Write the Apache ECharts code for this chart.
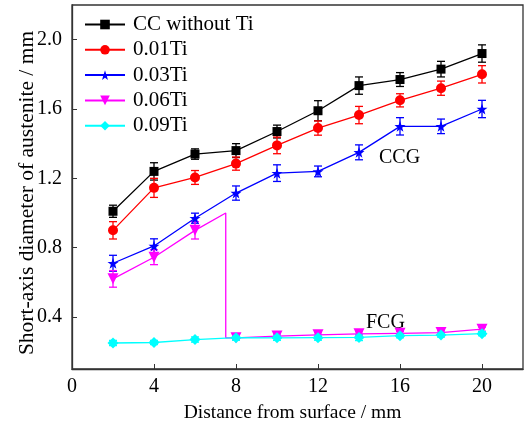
<!DOCTYPE html>
<html>
<head>
<meta charset="utf-8">
<script src="https://cdn.jsdelivr.net/npm/echarts@6/dist/echarts.min.js"></script>
<style>
  html, body { margin: 0; padding: 0; background: #fff; }
  #chart { width: 525px; height: 423px; }
</style>
</head>
<body>
<div id="chart"></div>
<script>
// distances (mm)
const xs = [2, 4, 6, 8, 10, 12, 14, 16, 18, 20];

// short-axis diameter
const ccNoTi = [1.01, 1.24, 1.34, 1.36, 1.47, 1.59, 1.735, 1.77, 1.83, 1.92];
const ti001 = [0.90, 1.145, 1.205, 1.285, 1.39, 1.49, 1.565, 1.65, 1.72, 1.80];
const ti003 = [0.71, 0.81, 0.97, 1.115, 1.23, 1.24, 1.35, 1.50, 1.50, 1.60];
const ti006 = [0.62, 0.745, 0.90, 0.28, 0.29, 0.297, 0.303, 0.306, 0.31, 0.33];
const ti009 = [0.25, 0.253, 0.27, 0.281, 0.28, 0.281, 0.282, 0.292, 0.296, 0.304];

// error bar half-widths
const errCC = [0.035, 0.05, 0.03, 0.04, 0.037, 0.058, 0.05, 0.04, 0.045, 0.05];
const err001 = [0.05, 0.055, 0.04, 0.038, 0.048, 0.041, 0.05, 0.038, 0.041, 0.05];
const err003 = [0.046, 0.041, 0.029, 0.041, 0.048, 0.031, 0.043, 0.05, 0.042, 0.05];
const err006 = [0.048, 0.043, 0.05, 0.012, 0.012, 0.012, 0.012, 0.01, 0.01, 0.012];
const err009 = [0.015, 0.012, 0.015, 0.015, 0.015, 0.015, 0.018, 0.012, 0.012, 0.012];

// the 0.06Ti curve jumps from CCG to FCG between 6 and 8 mm
const jumpX = 7.5;
const jumpTop = 1.0;
const jumpBottom = 0.28;

const xTicks = [0, 4, 8, 12, 16, 20];
const yTicks = [0.4, 0.8, 1.2, 1.6, 2.0];

const names = ['CC without Ti', '0.01Ti', '0.03Ti', '0.06Ti', '0.09Ti'];
const colors = ['#000000', '#ff0000', '#0000ff', '#ff00ff', '#00ffff'];

const starPath = 'path://M50,0 L61.8,35.1 L97.6,35.1 L68.9,56.7 L79.4,91 L50,70.5 L20.6,91 L31.1,56.7 L2.4,35.1 L38.2,35.1 Z';

const font = 'Liberation Serif, Times New Roman, serif';

function pairs(vals) {
  return xs.map((x, i) => [x, vals[i]]);
}

function errData(vals, errs) {
  return xs.map((x, i) => [x, vals[i] - errs[i], vals[i] + errs[i]]);
}

function errSeries(vals, errs, color) {
  return {
    type: 'custom',
    silent: true,
    data: errData(vals, errs),
    z: 1,
    renderItem: function (params, api) {
      const lo = api.coord([api.value(0), api.value(1)]);
      const hi = api.coord([api.value(0), api.value(2)]);
      const w = 4;
      const st = { stroke: color, lineWidth: 1.3 };
      return {
        type: 'group',
        children: [
          { type: 'line', shape: { x1: lo[0], y1: lo[1], x2: hi[0], y2: hi[1] }, style: st },
          { type: 'line', shape: { x1: lo[0] - w, y1: lo[1], x2: lo[0] + w, y2: lo[1] }, style: st },
          { type: 'line', shape: { x1: hi[0] - w, y1: hi[1], x2: hi[0] + w, y2: hi[1] }, style: st }
        ]
      };
    }
  };
}

function lineSeries(name, data, color, symbol, size, rotate) {
  return {
    name: name,
    type: 'line',
    data: data,
    symbol: symbol,
    symbolSize: size,
    symbolRotate: rotate || 0,
    showSymbol: true,
    z: 3,
    lineStyle: { color: color, width: 1.3 },
    itemStyle: { color: color, borderWidth: 0 },
    animation: false
  };
}

// 0.06Ti with the vertical drop
const ti006Data = pairs(ti006).slice(0, 3)
  .concat([
    { value: [jumpX, jumpTop], symbol: 'none' },
    { value: [jumpX, jumpBottom], symbol: 'none' }
  ])
  .concat(pairs(ti006).slice(3));

const chart = echarts.init(document.getElementById('chart'));

chart.setOption({
  animation: false,
  backgroundColor: '#fff',
  textStyle: { fontFamily: font },
  grid: {
    left: 72, right: 2, top: 5, bottom: 54,
    outerBoundsMode: 'none',
    containLabel: false,
    show: true, borderColor: '#333', borderWidth: 1.3
  },
  legend: {
    orient: 'vertical',
    left: 84,
    top: 14,
    padding: 0,
    itemWidth: 40,
    itemHeight: 12,
    itemGap: 4.3,
    data: names,
    textStyle: { fontFamily: font, fontSize: 21, color: '#000', lineHeight: 20, padding: [0, 0, 0, 3] }
  },
  xAxis: {
    type: 'value',
    min: 0,
    max: 22,
    name: 'Distance from surface / mm',
    nameLocation: 'middle',
    nameMoveOverlap: false,
    nameGap: 34,
    nameTextStyle: { fontFamily: font, fontSize: 19.5, color: '#000', padding: [0, 10, 0, 0] },
    axisLine: { lineStyle: { color: '#333', width: 1.3 } },
    axisTick: { inside: true, length: 5, customValues: xTicks, lineStyle: { color: '#333' } },
    axisLabel: { customValues: xTicks, fontFamily: font, fontSize: 20, color: '#000', margin: 8 },
    splitLine: { show: false }
  },
  yAxis: {
    type: 'value',
    min: 0.1,
    max: 2.2,
    name: 'Short-axis diameter of austenite / mm',
    nameLocation: 'middle',
    nameMoveOverlap: false,
    nameGap: 34,
    nameTextStyle: { fontFamily: font, fontSize: 21.5, color: '#000', padding: [0, 12, 0, 0] },
    axisLine: { lineStyle: { color: '#333', width: 1.3 } },
    axisTick: { inside: true, length: 5, customValues: yTicks, lineStyle: { color: '#333' } },
    axisLabel: {
      customValues: yTicks, fontFamily: font, fontSize: 20, color: '#000', margin: 10,
      formatter: v => v.toFixed(1)
    },
    splitLine: { show: false }
  },
  graphic: [
    { type: 'text', left: 379, top: 148, style: { text: 'CCG', fontFamily: font, fontSize: 20, fill: '#000' } },
    { type: 'text', left: 366, top: 313, style: { text: 'FCG', fontFamily: font, fontSize: 20, fill: '#000' } }
  ],
  series: [
    errSeries(ccNoTi, errCC, colors[0]),
    errSeries(ti001, err001, colors[1]),
    errSeries(ti003, err003, colors[2]),
    errSeries(ti006, err006, colors[3]),
    errSeries(ti009, err009, colors[4]),
    lineSeries(names[0], pairs(ccNoTi), colors[0], 'rect', 9),
    lineSeries(names[1], pairs(ti001), colors[1], 'circle', 10),
    lineSeries(names[2], pairs(ti003), colors[2], starPath, 11),
    lineSeries(names[3], ti006Data, colors[3], 'triangle', 11, 180),
    lineSeries(names[4], pairs(ti009), colors[4], 'diamond', 11)
  ]
});
</script>
</body>
</html>
